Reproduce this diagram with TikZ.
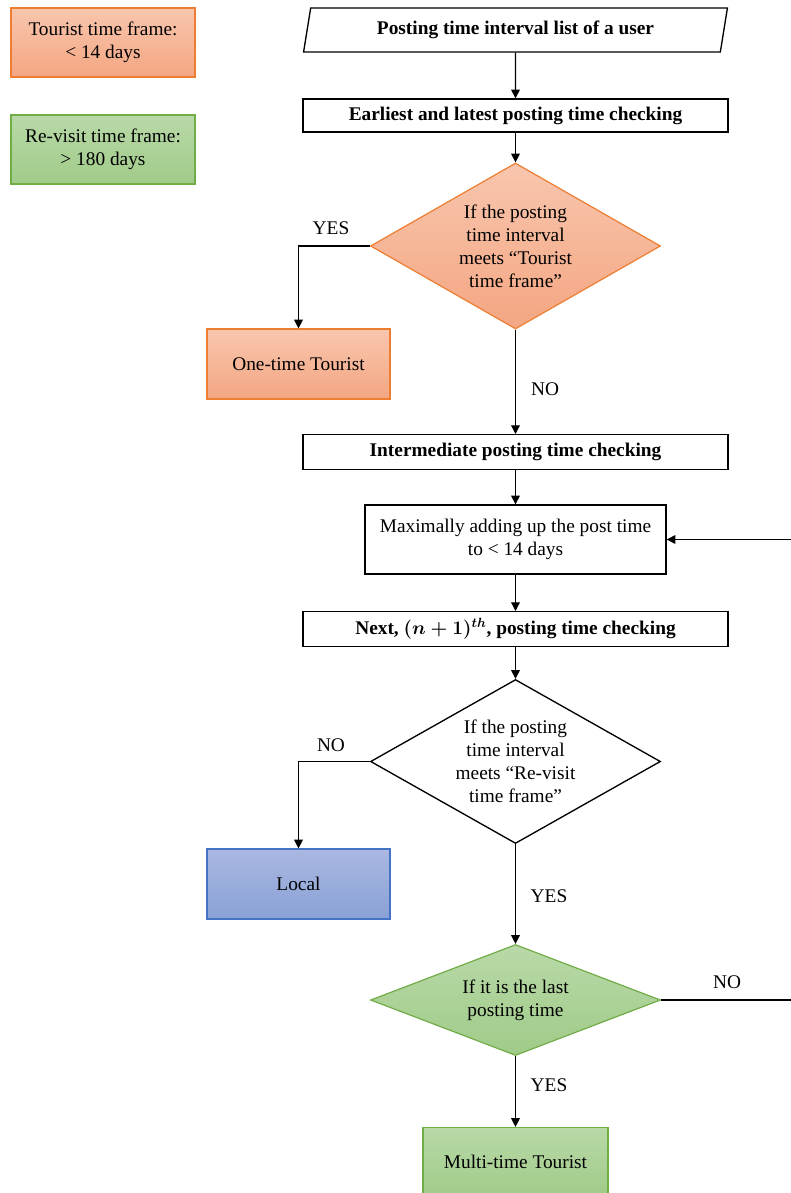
\documentclass[tikz,border=0pt]{standalone}
\usepackage{fontspec}
\setmainfont{Liberation Serif}
\usetikzlibrary{shapes.geometric,arrows.meta}
\definecolor{orT}{RGB}{248,198,174}
\definecolor{orB}{RGB}{244,166,130}
\definecolor{orD}{RGB}{237,125,49}
\definecolor{grT}{RGB}{185,217,168}
\definecolor{grB}{RGB}{160,203,137}
\definecolor{grD}{RGB}{112,173,71}
\definecolor{blT}{RGB}{170,184,225}
\definecolor{blB}{RGB}{137,161,214}
\definecolor{blD}{RGB}{68,114,196}
\begin{document}
\begin{tikzpicture}[x=0.75pt,y=-0.75pt,
  every node/.style={font=\fontsize{14.5}{17.25}\selectfont, align=center},
  wbox/.style={draw=black, line width=1pt, fill=white, minimum width=318.75pt, minimum height=26pt, inner sep=0pt, font=\fontsize{14.5}{17.25}\selectfont\bfseries},
  orbox/.style={draw=orD, line width=0.9pt, top color=orT, bottom color=orB, inner sep=0pt},
  grbox/.style={draw=grD, line width=0.9pt, top color=grT, bottom color=grB, inner sep=0pt},
  blbox/.style={draw=blD, line width=0.9pt, top color=blT, bottom color=blB, inner sep=0pt},
  dec/.style={diamond, shape aspect=1.75, inner sep=0pt},
  arr/.style={draw=black, line width=0.9pt, -{Triangle[length=6.5pt,width=6.5pt]}},
  lbl/.style={inner sep=0pt}
]
\useasboundingbox (0,0) rectangle (791,1193);

% legend
\node[orbox, minimum width=138pt, minimum height=51.75pt] (leg1) at (103,42.5) {Tourist time frame:\\< 14 days};
\node[grbox, minimum width=138pt, minimum height=51.75pt] (leg2) at (103,149.5) {Re-visit time frame:\\> 180 days};

% main flow
\node[trapezium, trapezium left angle=75, trapezium right angle=105, trapezium stretches=true,
      draw=black, line width=1pt, minimum width=318.75pt, minimum height=33pt, inner sep=0pt,
      font=\fontsize{14.5}{17.25}\selectfont\bfseries] (input) at (515.5,30) {Posting time interval list of a user};
\node[wbox, minimum height=24.75pt] (early) at (515.5,115.5) {Earliest and latest posting time checking};
\node[dec, orbox, minimum width=217.5pt, minimum height=124.5pt] (d1) at (515.5,246)
  {If the posting\\time interval\\meets “Tourist\\time frame”};
\node[orbox, minimum width=137.25pt, minimum height=52.5pt] (one) at (298.5,364) {One-time Tourist};
\node[wbox] (inter) at (515.5,452) {Intermediate posting time checking};
\node[draw=black, line width=1pt, minimum width=225.75pt, minimum height=51.75pt, inner sep=0pt] (maxb) at (515.5,539.5)
  {Maximally adding up the post time\\to < 14 days};
\node[wbox] (next) at (515.5,629) {Next, {\boldmath$(n+1)^{th}$}, posting time checking};
\node[dec, draw=black, line width=1pt, fill=white, minimum width=217.5pt, minimum height=123pt] (d2) at (515.5,761.5)
  {If the posting\\time interval\\meets “Re-visit\\time frame”};
\node[blbox, minimum width=137.25pt, minimum height=52.5pt] (local) at (298.5,884) {Local};
\node[dec, grbox, minimum width=217.5pt, minimum height=83.25pt] (d3) at (515.5,1000)
  {If it is the last\\posting time};
\node[grbox, minimum width=138.75pt, minimum height=51pt] (multi) at (515.5,1161.5) {Multi-time Tourist};

% labels
\node[lbl] (yes1) at (331,228) {YES};
\node[lbl] (no1) at (545,389) {NO};
\node[lbl] (no2) at (331,745) {NO};
\node[lbl] (yes2) at (549,896) {YES};
\node[lbl] (no3) at (727,982) {NO};
\node[lbl] (yes3) at (549,1085) {YES};

\coordinate (loopA) at (800,1000);

% connectors
\draw[arr] (input) -- (early);
\draw[arr] (early) -- (d1);
\draw[arr] (d1.west) -| (one.north);
\draw[arr] (d1.south) -- (inter.north);
\draw[arr] (inter) -- (maxb);
\draw[arr] (maxb) -- (next);
\draw[arr] (next) -- (d2);
\draw[arr] (d2.west) -| (local.north);
\draw[arr] (d2.south) -- (d3.north);
\draw[arr] (d3.south) -- (multi.north);
\draw[arr] (d3.east) -- (loopA) |- (maxb.east);
\end{tikzpicture}
\end{document}
